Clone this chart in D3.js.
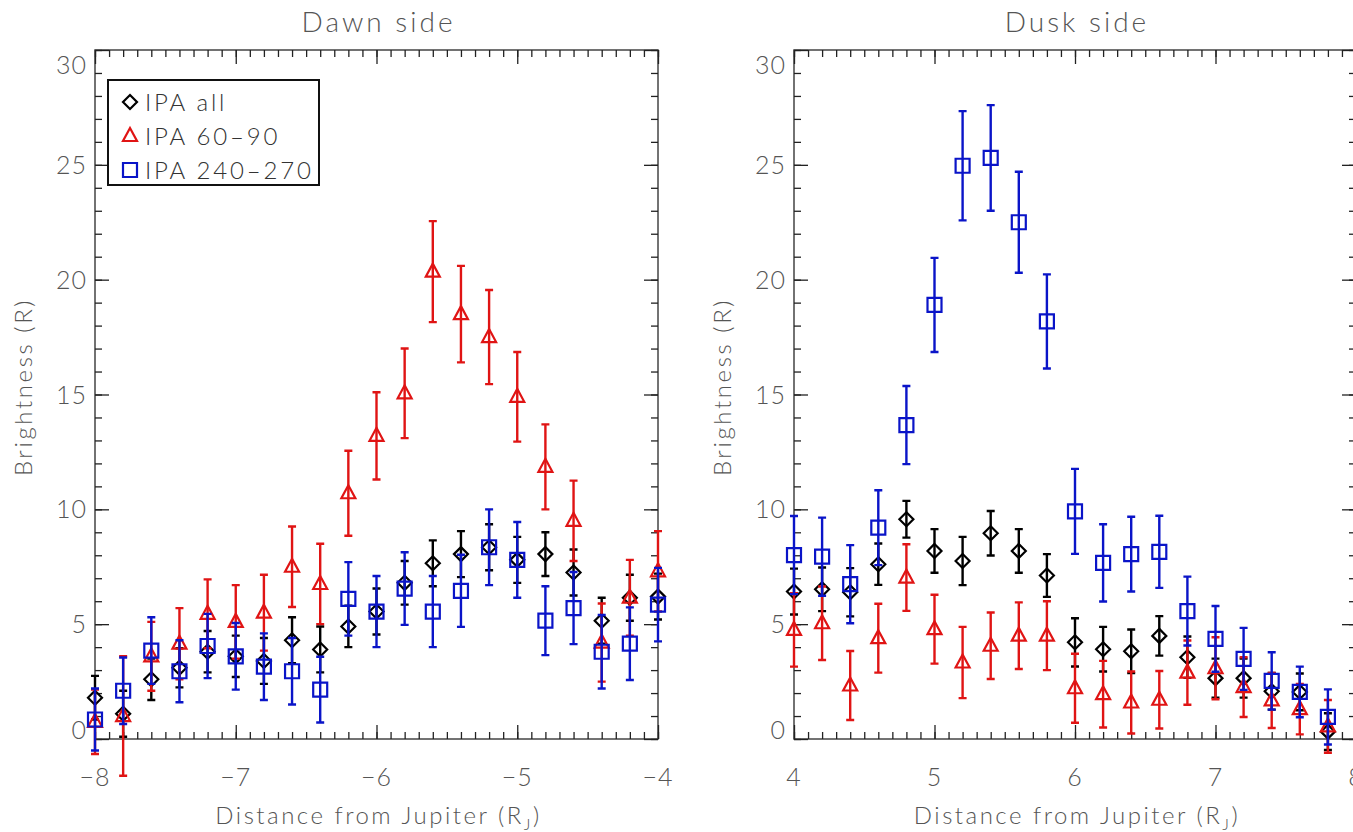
<!DOCTYPE html>
<html>
<head>
<meta charset="utf-8">
<script src="https://cdn.jsdelivr.net/npm/d3@7"></script>
<style>
  html, body { margin: 0; padding: 0; background: #fff; }
  svg text { font-family: Lato, "DejaVu Sans", sans-serif; font-weight: 300; fill: #555; }
</style>
</head>
<body>
<svg id="chart" width="1353" height="832"></svg>
<script>
// dawn side, IPA bins
const dawnX = [-8.0, -7.8, -7.6, -7.4, -7.2, -7.0, -6.8, -6.6, -6.4, -6.2, -6.0, -5.8, -5.6, -5.4, -5.2, -5.0, -4.8, -4.6, -4.4, -4.2, -4.0];
const dawnAll = [1.8, 1.1, 2.6, 3.1, 3.8, 3.6, 3.4, 4.3, 3.9, 4.9, 5.55, 6.8, 7.65, 8.05, 8.35, 7.8, 8.05, 7.25, 5.15, 6.15, 6.2];
const dawnAllErr = [0.95, 1.0, 0.9, 0.85, 0.9, 0.9, 1.0, 1.0, 1.0, 0.9, 1.0, 0.95, 1.0, 1.0, 1.0, 1.0, 0.95, 1.0, 1.0, 1.0, 1.0];
const dawn6090 = [0.75, 1.0, 3.6, 4.15, 5.45, 5.1, 5.5, 7.5, 6.75, 10.7, 13.2, 15.05, 20.35, 18.5, 17.5, 14.9, 11.85, 9.5, 4.2, 6.15, 7.3];
const dawn6090Err = [1.4, 2.6, 1.5, 1.55, 1.5, 1.6, 1.65, 1.75, 1.75, 1.85, 1.9, 1.95, 2.2, 2.1, 2.05, 1.95, 1.85, 1.75, 1.7, 1.65, 1.75];
const dawn240 = [0.85, 2.1, 3.85, 2.95, 4.05, 3.6, 3.15, 2.95, 2.15, 6.1, 5.55, 6.55, 5.55, 6.45, 8.35, 7.8, 5.15, 5.7, 3.8, 4.15, 5.85];
const dawn240Err = [1.35, 1.45, 1.45, 1.35, 1.4, 1.45, 1.45, 1.45, 1.43, 1.6, 1.55, 1.58, 1.55, 1.57, 1.65, 1.65, 1.5, 1.57, 1.6, 1.58, 1.6];

// dusk side
const duskX = [4.0, 4.2, 4.4, 4.6, 4.8, 5.0, 5.2, 5.4, 5.6, 5.8, 6.0, 6.2, 6.4, 6.6, 6.8, 7.0, 7.2, 7.4, 7.6, 7.8];
const duskAll = [6.42, 6.52, 6.39, 7.61, 9.57, 8.19, 7.75, 8.96, 8.19, 7.12, 4.21, 3.91, 3.82, 4.49, 3.56, 2.65, 2.65, 2.08, 2.05, 0.32];
const duskAllErr = [1.0, 0.95, 1.05, 0.9, 0.8, 0.95, 1.05, 0.97, 0.95, 0.93, 1.05, 0.97, 0.95, 0.86, 0.9, 0.85, 0.85, 0.8, 0.8, 0.8];
const dusk6090 = [4.75, 5.04, 2.33, 4.39, 7.03, 4.78, 3.33, 4.06, 4.5, 4.5, 2.21, 1.95, 1.59, 1.71, 2.89, 3.08, 2.26, 1.68, 1.3, 0.55];
const dusk6090Err = [1.6, 1.6, 1.5, 1.5, 1.45, 1.5, 1.55, 1.45, 1.45, 1.5, 1.5, 1.45, 1.35, 1.25, 1.4, 1.35, 1.3, 1.2, 1.1, 1.15];
const dusk240 = [8.01, 7.94, 6.74, 9.2, 13.67, 18.9, 24.96, 25.3, 22.5, 18.18, 9.91, 7.67, 8.05, 8.15, 5.57, 4.36, 3.49, 2.53, 2.05, 0.96];
const dusk240Err = [1.7, 1.7, 1.7, 1.63, 1.7, 2.05, 2.38, 2.3, 2.2, 2.05, 1.85, 1.68, 1.63, 1.57, 1.5, 1.43, 1.35, 1.25, 1.1, 1.2];

const yTicks = [0, 5, 10, 15, 20, 25, 30];
const legendNames = ["IPA all", "IPA 60\u201390", "IPA 240\u2013270"];
const colors = ["#000000", "#e01414", "#0a14c8"];
const shapes = ["diamond", "triangle", "square"];

const svg = d3.select("#chart");

function markerPath(shape, cx, cy) {
  const p = d3.path();
  if (shape === "diamond") {
    p.moveTo(cx, cy - 7); p.lineTo(cx + 7, cy); p.lineTo(cx, cy + 7); p.lineTo(cx - 7, cy); p.closePath();
  } else if (shape === "triangle") {
    p.moveTo(cx, cy - 8); p.lineTo(cx + 7, cy + 5); p.lineTo(cx - 7, cy + 5); p.closePath();
  } else {
    p.rect(cx - 7, cy - 7, 14, 14);
  }
  return p.toString();
}

function drawPanel(opt) {
  const x = d3.scaleLinear().domain(opt.xDomain).range(opt.xRange);
  const y = d3.scaleLinear().domain([0, 30]).range([739, 50]);
  const g = svg.append("g");
  const [x0, x1] = opt.xRange;

  // frame
  g.append("rect").attr("x", x0).attr("y", 50).attr("width", x1 - x0).attr("height", 689)
    .attr("fill", "none").attr("stroke", "#444").attr("stroke-width", 1.5);

  const xMinor = d3.range(opt.xDomain[0] * 10, opt.xDomain[1] * 10 + 1).map(d => d / 10);
  const yMinor = d3.range(0, 31);

  // minor + major ticks, bottom/top/left/right
  const axes = [
    [d3.axisBottom(x).tickValues(xMinor).tickSize(-7).tickFormat(""), `translate(0,739)`],
    [d3.axisTop(x).tickValues(xMinor).tickSize(-7).tickFormat(""), `translate(0,50)`],
    [d3.axisBottom(x).ticks(4).tickSize(-14).tickFormat(""), `translate(0,739)`],
    [d3.axisTop(x).ticks(4).tickSize(-14).tickFormat(""), `translate(0,50)`],
    [d3.axisLeft(y).tickValues(yMinor).tickSize(-7).tickFormat(""), `translate(${x0},0)`],
    [d3.axisRight(y).tickValues(yMinor).tickSize(-7).tickFormat(""), `translate(${x1},0)`],
    [d3.axisLeft(y).tickValues(yTicks).tickSize(-14).tickFormat(""), `translate(${x0},0)`],
    [d3.axisRight(y).tickValues(yTicks).tickSize(-14).tickFormat(""), `translate(${x1},0)`]
  ];
  axes.forEach(([ax, tr]) => {
    const a = g.append("g").attr("transform", tr).call(ax);
    a.select(".domain").remove();
    a.selectAll("line").attr("stroke", "#222").attr("stroke-width", 1.3);
  });

  // tick labels
  g.selectAll(".xl").data(d3.range(opt.xDomain[0], opt.xDomain[1] + 1)).join("text")
    .attr("x", d => x(d)).attr("y", 786).attr("text-anchor", "middle")
    .attr("font-size", 25).attr("letter-spacing", 1).text(d => d3.format("d")(d));
  g.selectAll(".yl").data(yTicks).join("text")
    .attr("x", x0 - 8).attr("y", d => y(d))
    .attr("dy", d => d === 0 ? "0" : d === 30 ? "0.95em" : "0.36em")
    .attr("text-anchor", "end").attr("font-size", 25).attr("letter-spacing", 1).text(d => d);

  // titles
  const cx = (x(opt.xDomain[0]) + x(opt.xDomain[1])) / 2;
  g.append("text").attr("x", cx + 2).attr("y", 32).attr("text-anchor", "middle")
    .attr("font-size", 28).attr("letter-spacing", 3).text(opt.title);
  const xl = g.append("text").attr("x", cx + 2).attr("y", 824).attr("text-anchor", "middle")
    .attr("font-size", 24).attr("letter-spacing", 2.5);
  xl.append("tspan").text("Distance from Jupiter (R");
  xl.append("tspan").attr("font-size", 16).attr("dy", 6).text("J");
  xl.append("tspan").attr("dy", -6).text(")");
  g.append("text").attr("transform", `translate(${opt.yLabelX},387) rotate(-90)`)
    .attr("text-anchor", "middle").attr("font-size", 24).attr("letter-spacing", 2.6)
    .text("Brightness (R)");

  // series: all, 60-90, 240-270
  opt.series.forEach((s, i) => {
    const sg = g.append("g").attr("stroke", colors[i]).attr("fill", "none").attr("stroke-width", 2.4);
    const pts = opt.xs.map((xv, k) => ({ x: xv, v: s.v[k], e: s.e[k] }));
    sg.selectAll(".bar").data(pts).join("path")
      .attr("d", d => {
        const px = x(d.x), top = y(d.v + d.e), bot = y(d.v - d.e);
        return `M${px},${top}V${bot}M${px - 4},${top}H${px + 4}M${px - 4},${bot}H${px + 4}`;
      });
    sg.selectAll(".mk").data(pts).join("path")
      .attr("stroke-width", 2.2)
      .attr("d", d => markerPath(shapes[i], x(d.x), y(d.v)));
  });

  return { x, y };
}

drawPanel({
  title: "Dawn side", xDomain: [-8, -4], xRange: [95, 658], yLabelX: 32, xs: dawnX,
  series: [{ v: dawnAll, e: dawnAllErr }, { v: dawn6090, e: dawn6090Err }, { v: dawn240, e: dawn240Err }]
});
drawPanel({
  title: "Dusk side", xDomain: [4, 8], xRange: [794, 1356], yLabelX: 731, xs: duskX,
  series: [{ v: duskAll, e: duskAllErr }, { v: dusk6090, e: dusk6090Err }, { v: dusk240, e: dusk240Err }]
});

// legend
const lg = svg.append("g");
lg.append("rect").attr("x", 108).attr("y", 80).attr("width", 211).attr("height", 105)
  .attr("fill", "#fff").attr("stroke", "#111").attr("stroke-width", 2);
legendNames.forEach((name, i) => {
  const ly = 102 + i * 34;
  lg.append("path").attr("d", markerPath(shapes[i], 130, ly))
    .attr("fill", "none").attr("stroke", colors[i]).attr("stroke-width", 2.2);
  lg.append("text").attr("x", 145).attr("y", ly).attr("dy", "0.36em")
    .attr("font-size", 24).attr("letter-spacing", 2.8).style("fill", "#333").text(name);
});
</script>
</body>
</html>
